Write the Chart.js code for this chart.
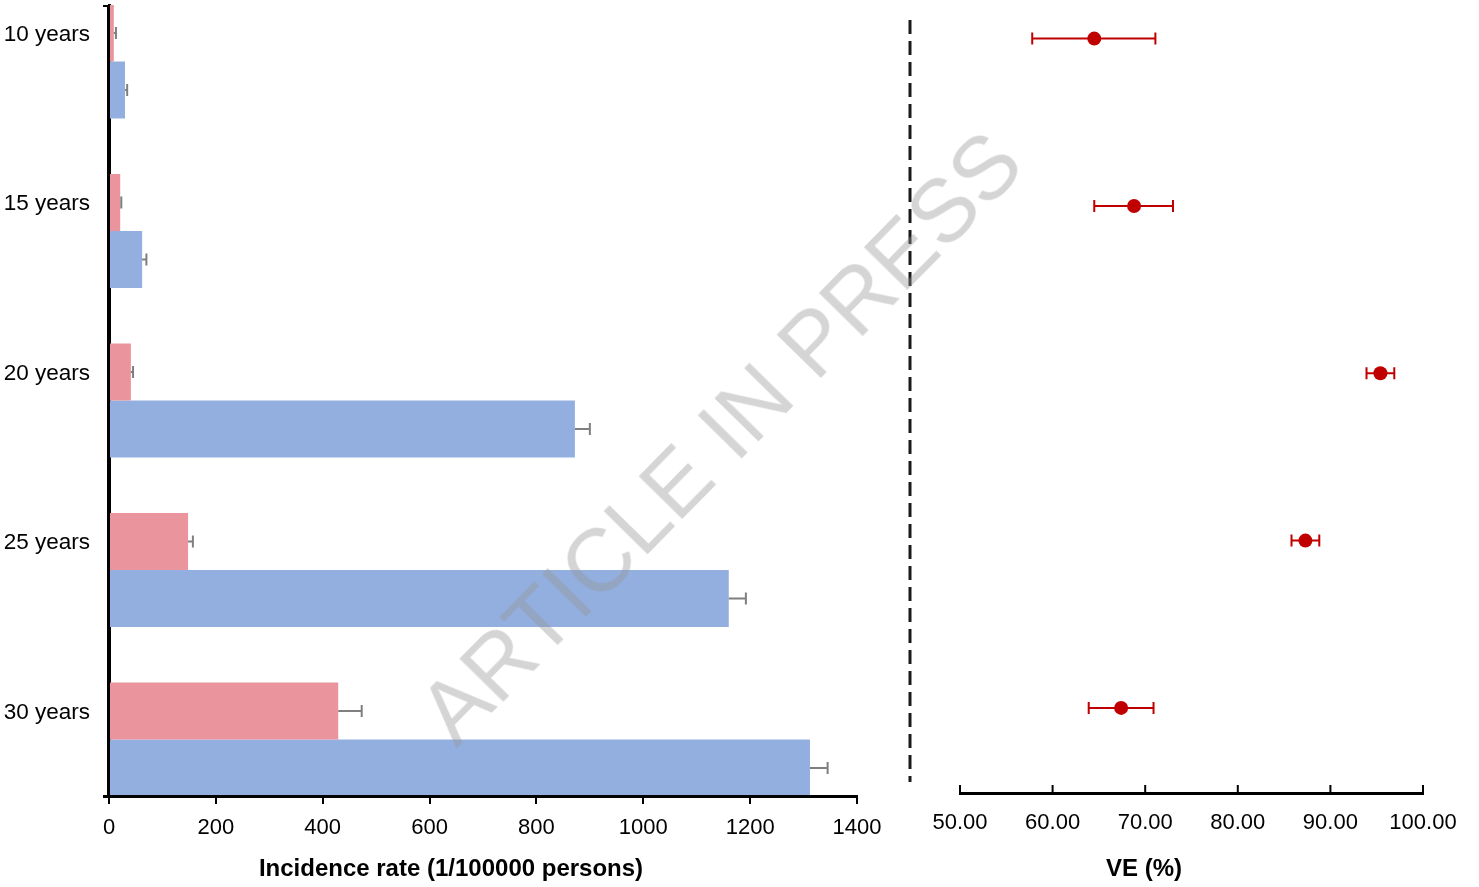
<!DOCTYPE html>
<html>
<head>
<meta charset="utf-8">
<title>Incidence rate and VE by age</title>
<script src="https://cdn.jsdelivr.net/npm/chart.js@4.4.1/dist/chart.umd.min.js"></script>
<style>
  html, body { margin: 0; padding: 0; background: #fff; overflow: hidden; }
  #wrap { position: relative; width: 1479px; height: 887px; }
  #left { position: absolute; left: 0; top: 0; }
  #right { position: absolute; left: 880px; top: 0; }
  #mark {
    position: absolute; left: 720px; top: 437px;
    transform: translate(-50%, -50%) rotate(-45.5deg);
    font: 89px "Liberation Sans", Arial, sans-serif;
    color: rgba(150, 150, 150, 0.4);
    white-space: nowrap; pointer-events: none;
  }
</style>
</head>
<body>
<div id="wrap">
  <canvas id="left" width="900" height="887"></canvas>
  <canvas id="right" width="599" height="887"></canvas>
  <div id="mark">ARTICLE IN PRESS</div>
</div>
<script>
// Données
var ageGroups = ['10 years', '15 years', '20 years', '25 years', '30 years'];
var rateVaccinated = [9, 21, 41, 148, 429];
var rateVaccinatedUpper = [13, 23, 45, 157, 473];
var rateUnvaccinated = [30, 62, 872, 1160, 1312];
var rateUnvaccinatedUpper = [34, 70, 900, 1192, 1345];
var veValues = [64.5, 68.8, 95.4, 87.3, 67.4];
var veLower = [57.8, 64.5, 93.9, 85.8, 63.9];
var veUpper = [71.1, 73.0, 96.9, 88.8, 70.9];
var rateTicks = [0, 200, 400, 600, 800, 1000, 1200, 1400];
var veTicks = [50, 60, 70, 80, 90, 100];

var FONT = '"Liberation Sans", Arial, sans-serif';
Chart.defaults.font.family = FONT;
Chart.defaults.color = '#000';

function toPoints(values) {
    return values.map(function(v, i) { return { x: v, y: i }; });
}

// Barres d'erreur (côté positif seulement) pour l'histogramme
var rateErrorBars = {
    id: 'rateErrorBars',
    afterDatasetsDraw: function(chart) {
        var ctx = chart.ctx, xs = chart.scales.x;
        var uppers = [rateVaccinatedUpper, rateUnvaccinatedUpper];
        ctx.save();
        ctx.strokeStyle = '#7f7f7f';
        ctx.lineWidth = 2;
        chart.data.datasets.forEach(function(ds, d) {
            chart.getDatasetMeta(d).data.forEach(function(bar, i) {
                var end = xs.getPixelForValue(uppers[d][i]);
                ctx.beginPath();
                ctx.moveTo(bar.x, bar.y);
                ctx.lineTo(end, bar.y);
                ctx.moveTo(end, bar.y - 6);
                ctx.lineTo(end, bar.y + 6);
                ctx.stroke();
            });
        });
        ctx.restore();
    }
};

// Axes redessinés au-dessus des barres + petits traits + titre de l'axe x
var leftDecor = {
    id: 'leftDecor',
    afterDraw: function(chart) {
        var a = chart.chartArea, ctx = chart.ctx;
        ctx.save();
        ctx.strokeStyle = '#000';
        ctx.lineWidth = 3;
        ctx.beginPath();
        ctx.moveTo(a.left - 0.5, a.top);
        ctx.lineTo(a.left - 0.5, a.bottom + 1.5);
        ctx.moveTo(a.left - 6, a.bottom + 0.5);
        ctx.lineTo(a.right + 1, a.bottom + 0.5);
        ctx.stroke();
        ctx.lineWidth = 2;
        ctx.beginPath();
        ctx.moveTo(a.left - 6, a.top + 1);
        ctx.lineTo(a.left, a.top + 1);
        ctx.stroke();
        ctx.fillStyle = '#000';
        ctx.font = 'bold 24px ' + FONT;
        ctx.textAlign = 'center';
        ctx.textBaseline = 'middle';
        ctx.fillText('Incidence rate (1/100000 persons)', 451, 869);
        ctx.restore();
    }
};

new Chart(document.getElementById('left'), {
    type: 'bar',
    data: {
        datasets: [{
            label: 'Vaccinated',
            data: toPoints(rateVaccinated),
            backgroundColor: '#ea959d',
            barPercentage: 1,
            categoryPercentage: 0.6726
        }, {
            label: 'Unvaccinated',
            data: toPoints(rateUnvaccinated),
            backgroundColor: '#93afe0',
            barPercentage: 1,
            categoryPercentage: 0.6726
        }]
    },
    options: {
        indexAxis: 'y',
        responsive: false,
        animation: false,
        layout: { padding: { top: 5, right: 43, left: 0, bottom: 0 } },
        plugins: { legend: { display: false }, tooltip: { enabled: false } },
        scales: {
            x: {
                type: 'linear',
                min: 0,
                max: 1400,
                afterBuildTicks: function(s) { s.ticks = rateTicks.map(function(v) { return { value: v }; }); },
                afterFit: function(s) { s.height = 91; },
                ticks: {
                    font: { size: 22 },
                    padding: 11,
                    maxRotation: 0,
                    callback: function(v) { return String(v); }
                },
                grid: { drawOnChartArea: false, tickLength: 8, color: '#000', lineWidth: 2 },
                border: { color: '#000', width: 3 }
            },
            y: {
                type: 'linear',
                reverse: true,
                offset: false,
                min: -1 / 3,
                max: 4 + 1 / 3,
                afterBuildTicks: function(s) { s.ticks = ageGroups.map(function(c, i) { return { value: i }; }); },
                afterFit: function(s) {
                    s.width = 109;
                    s.paddingTop = 0;
                    s.paddingBottom = 0;
                },
                ticks: {
                    font: { size: 22.5 },
                    padding: 19,
                    labelOffset: -27,
                    autoSkip: false,
                    callback: function(v) { return ageGroups[v]; }
                },
                grid: { offset: false, drawOnChartArea: false, drawTicks: false },
                border: { color: '#000', width: 3 }
            }
        }
    },
    plugins: [rateErrorBars, leftDecor]
});

// Intervalles de confiance de l'efficacité vaccinale
var veErrorBars = {
    id: 'veErrorBars',
    beforeDatasetsDraw: function(chart) {
        var ctx = chart.ctx, xs = chart.scales.x, ys = chart.scales.y;
        ctx.save();
        ctx.strokeStyle = '#c00000';
        ctx.lineWidth = 2;
        veValues.forEach(function(v, i) {
            var y = ys.getPixelForValue(i);
            var x0 = xs.getPixelForValue(veLower[i]);
            var x1 = xs.getPixelForValue(veUpper[i]);
            ctx.beginPath();
            ctx.moveTo(x0, y);
            ctx.lineTo(x1, y);
            ctx.moveTo(x0, y - 6);
            ctx.lineTo(x0, y + 6);
            ctx.moveTo(x1, y - 6);
            ctx.lineTo(x1, y + 6);
            ctx.stroke();
        });
        ctx.restore();
    }
};

// Ligne pointillée, graduations intérieures, titre de l'axe
var rightDecor = {
    id: 'rightDecor',
    afterDraw: function(chart) {
        var a = chart.chartArea, ctx = chart.ctx, xs = chart.scales.x;
        ctx.save();
        ctx.strokeStyle = '#1a1a1a';
        ctx.lineWidth = 3;
        ctx.setLineDash([14, 7]);
        ctx.beginPath();
        ctx.moveTo(30, 20);
        ctx.lineTo(30, 782);
        ctx.stroke();
        ctx.setLineDash([]);
        ctx.strokeStyle = '#000';
        ctx.lineWidth = 2;
        ctx.beginPath();
        veTicks.forEach(function(v) {
            var x = xs.getPixelForValue(v);
            ctx.moveTo(x, a.bottom);
            ctx.lineTo(x, a.bottom - 8);
        });
        ctx.stroke();
        ctx.fillStyle = '#000';
        ctx.font = 'bold 24px ' + FONT;
        ctx.textAlign = 'center';
        ctx.textBaseline = 'middle';
        ctx.fillText('VE (%)', 264, 869);
        ctx.restore();
    }
};

new Chart(document.getElementById('right'), {
    type: 'scatter',
    data: {
        datasets: [{
            label: 'VE',
            data: toPoints(veValues),
            pointRadius: 7,
            pointHoverRadius: 7,
            backgroundColor: '#c00000',
            borderColor: '#c00000',
            borderWidth: 0
        }]
    },
    options: {
        responsive: false,
        animation: false,
        layout: { padding: { top: 5, right: 56, left: 80, bottom: 0 } },
        plugins: { legend: { display: false }, tooltip: { enabled: false } },
        scales: {
            x: {
                type: 'linear',
                min: 50,
                max: 100,
                afterBuildTicks: function(s) { s.ticks = veTicks.map(function(v) { return { value: v }; }); },
                afterFit: function(s) { s.height = 94; },
                ticks: {
                    font: { size: 22 },
                    padding: 17,
                    maxRotation: 0,
                    callback: function(v) { return Number(v).toFixed(2); }
                },
                grid: { drawOnChartArea: false, drawTicks: false },
                border: { color: '#000', width: 3 }
            },
            y: {
                type: 'linear',
                display: false,
                reverse: true,
                min: -0.189,
                max: 4.5085
            }
        }
    },
    plugins: [veErrorBars, rightDecor]
});
</script>
</body>
</html>
